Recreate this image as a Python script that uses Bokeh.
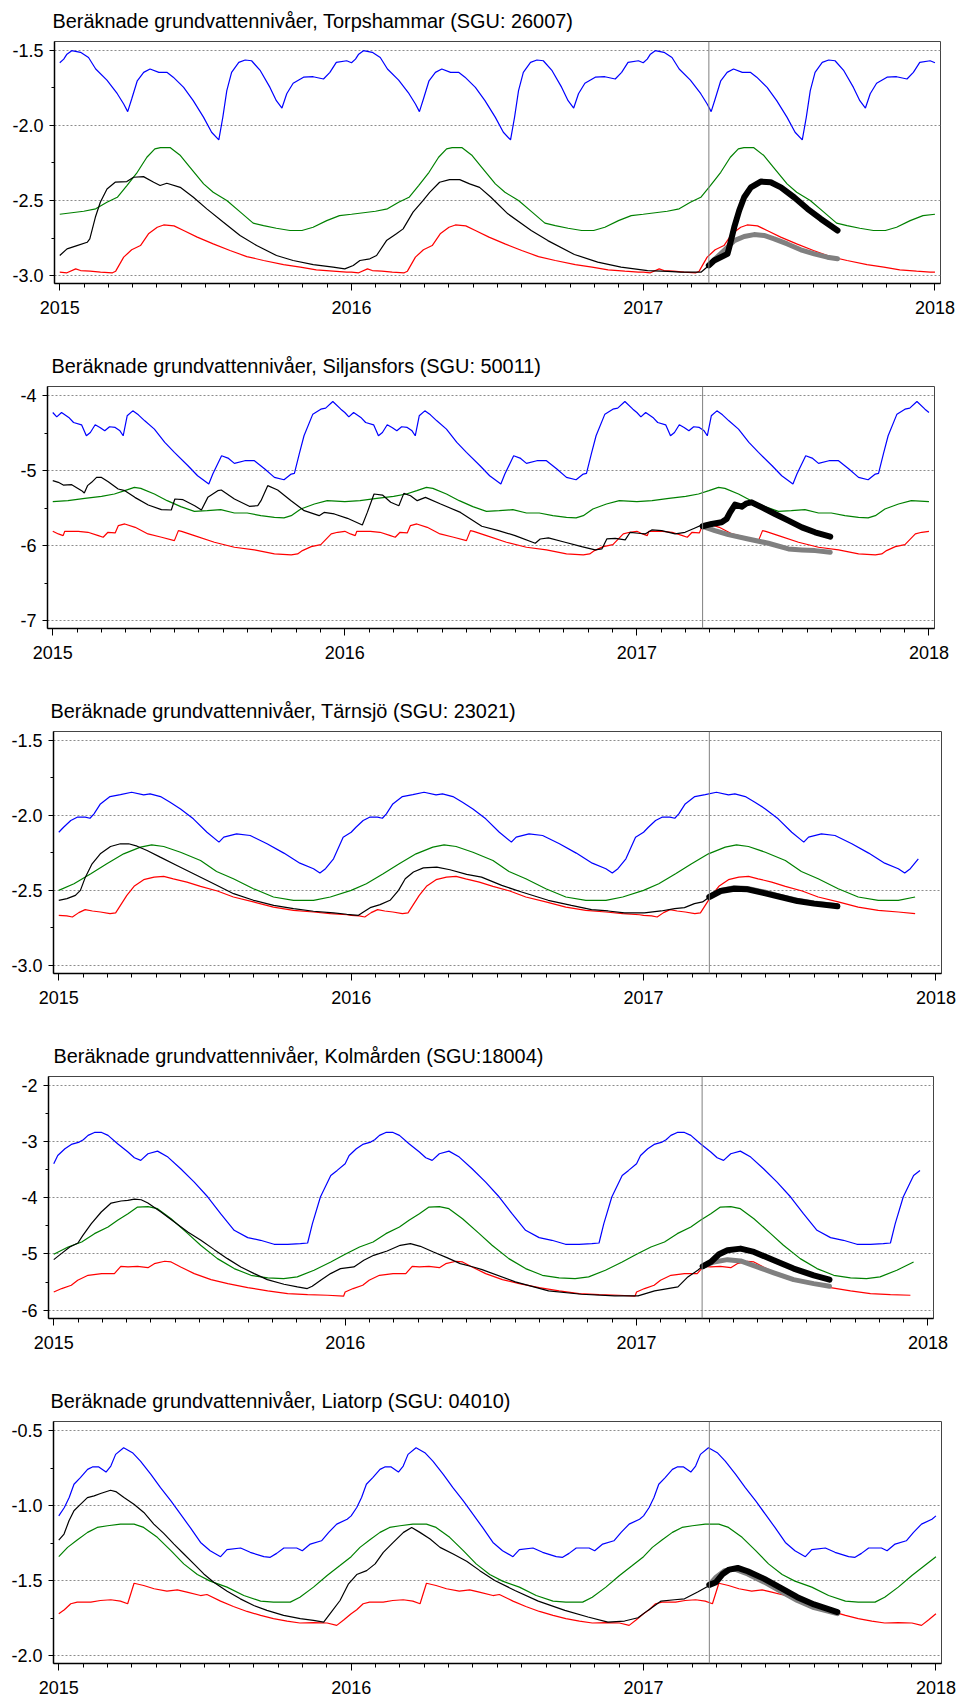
from bokeh.plotting import figure
from bokeh.layouts import column, row
from bokeh.models import FixedTicker, PrintfTickFormatter, Span, Range1d
from bokeh.embed import file_html
from bokeh.resources import INLINE

# ---------------- data ----------------
YEARS = [2015, 2016, 2017]
X_TICKS = [2015, 2016, 2017, 2018]
FORECAST_START = 2017.225

TITLES = [
    "Beräknade grundvattennivåer, Torpshammar (SGU: 26007)",
    "Beräknade grundvattennivåer, Siljansfors (SGU: 50011)",
    "Beräknade grundvattennivåer, Tärnsjö (SGU: 23021)",
    "Beräknade grundvattennivåer, Kolmården (SGU:18004)",
    "Beräknade grundvattennivåer, Liatorp (SGU: 04010)",
]

# Panel 1 - Torpshammar (yearly statistics given per day of year)
P1_BLUE_DOY = [0,5,9,15,26,36,45,59,72,80,85,90,97,105,113,124,134,142,155,167,180,190,199,204,209,215,224,232,240,251,263,271,278,284,292,305,317,330,338,346,359,365]
P1_BLUE = [-1.584,-1.56,-1.527,-1.504,-1.515,-1.549,-1.626,-1.70,-1.79,-1.858,-1.909,-1.825,-1.704,-1.648,-1.626,-1.648,-1.648,-1.68,-1.748,-1.836,-1.947,-2.046,-2.097,-1.947,-1.77,-1.648,-1.582,-1.566,-1.571,-1.637,-1.748,-1.836,-1.885,-1.79,-1.72,-1.68,-1.677,-1.692,-1.648,-1.582,-1.571,-1.584]
P1_GREEN_DOY = [0,30,45,59,72,84,97,109,119,126,138,151,163,180,192,209,226,242,255,271,288,303,317,334,350,365]
P1_GREEN = [-2.591,-2.571,-2.555,-2.511,-2.478,-2.40,-2.312,-2.212,-2.157,-2.148,-2.148,-2.201,-2.279,-2.389,-2.445,-2.50,-2.577,-2.65,-2.666,-2.684,-2.699,-2.699,-2.677,-2.633,-2.60,-2.591]
P1_RED_DOY = [0,9,20,26,38,51,66,70,80,90,101,111,122,130,143,155,172,192,213,234,255,280,301,321,342,359,365]
P1_RED = [-2.976,-2.98,-2.954,-2.965,-2.969,-2.976,-2.98,-2.969,-2.876,-2.827,-2.799,-2.721,-2.677,-2.662,-2.668,-2.699,-2.743,-2.788,-2.832,-2.872,-2.898,-2.925,-2.942,-2.96,-2.969,-2.976,-2.976]
P1_BLACK_T = [2015.000,2015.025,2015.059,2015.094,2015.103,2015.122,2015.139,2015.162,2015.190,2015.230,2015.253,2015.287,2015.322,2015.344,2015.367,2015.413,2015.458,2015.504,2015.561,2015.618,2015.675,2015.743,2015.800,2015.869,2015.937,2015.977,2016.006,2016.029,2016.063,2016.086,2016.120,2016.154,2016.177,2016.211,2016.245,2016.268,2016.302,2016.336,2016.371,2016.405,2016.439,2016.478,2016.536,2016.616,2016.673,2016.764,2016.844,2016.924,2017.015,2017.084,2017.129,2017.198,2017.225]
P1_BLACK = [-2.865,-2.821,-2.799,-2.777,-2.754,-2.611,-2.511,-2.423,-2.378,-2.374,-2.345,-2.341,-2.378,-2.40,-2.385,-2.412,-2.478,-2.555,-2.644,-2.732,-2.799,-2.865,-2.898,-2.925,-2.942,-2.954,-2.931,-2.898,-2.887,-2.865,-2.766,-2.721,-2.688,-2.577,-2.50,-2.445,-2.378,-2.361,-2.361,-2.389,-2.412,-2.478,-2.588,-2.699,-2.766,-2.858,-2.909,-2.942,-2.965,-2.971,-2.976,-2.976,-2.931]
P1_FCB_T = [2017.225,2017.243,2017.289,2017.295,2017.312,2017.329,2017.346,2017.369,2017.403,2017.437,2017.472,2017.517,2017.563,2017.609,2017.666]
P1_FCB = [-2.931,-2.898,-2.854,-2.81,-2.677,-2.566,-2.478,-2.412,-2.374,-2.378,-2.412,-2.478,-2.555,-2.622,-2.699]
P1_FCG_T = [2017.225,2017.243,2017.277,2017.312,2017.346,2017.380,2017.414,2017.449,2017.494,2017.540,2017.586,2017.631,2017.666]
P1_FCG = [-2.931,-2.894,-2.832,-2.766,-2.739,-2.726,-2.732,-2.754,-2.788,-2.827,-2.854,-2.876,-2.887]

# Panel 2 - Siljansfors
P2_BLUE_DOY = [0,5,11,20,26,36,42,47,53,59,65,71,78,84,88,93,100,107,115,127,140,152,169,181,195,200,211,219,227,240,252,265,277,289,298,302,308,314,325,335,341,350,360,365]
P2_BLUE = [-4.226,-4.284,-4.226,-4.292,-4.359,-4.39,-4.536,-4.492,-4.39,-4.425,-4.47,-4.416,-4.425,-4.47,-4.536,-4.27,-4.204,-4.257,-4.337,-4.447,-4.625,-4.758,-4.935,-5.068,-5.179,-5.046,-4.802,-4.833,-4.904,-4.868,-4.868,-4.979,-5.09,-5.121,-5.046,-5.037,-4.78,-4.536,-4.248,-4.182,-4.168,-4.08,-4.182,-4.226]
P2_GREEN_DOY = [0,19,40,61,77,90,102,110,127,143,160,177,193,210,227,243,260,277,289,298,310,327,343,365]
P2_GREEN = [-5.413,-5.40,-5.369,-5.342,-5.311,-5.267,-5.223,-5.236,-5.311,-5.40,-5.48,-5.542,-5.533,-5.52,-5.564,-5.564,-5.60,-5.622,-5.63,-5.60,-5.511,-5.444,-5.40,-5.413]
P2_RED_DOY = [0,7,13,15,32,44,57,63,69,78,82,90,103,119,136,152,157,161,177,202,227,252,277,298,306,312,323,335,348,356,365]
P2_RED = [-5.808,-5.843,-5.865,-5.808,-5.808,-5.821,-5.865,-5.887,-5.821,-5.83,-5.732,-5.71,-5.755,-5.843,-5.887,-5.932,-5.799,-5.808,-5.865,-5.954,-6.02,-6.056,-6.109,-6.122,-6.109,-6.065,-6.012,-5.985,-5.843,-5.821,-5.808]
P2_BLACK_T = [2015.000,2015.019,2015.036,2015.065,2015.099,2015.108,2015.119,2015.133,2015.150,2015.167,2015.190,2015.224,2015.247,2015.281,2015.327,2015.372,2015.406,2015.418,2015.446,2015.486,2015.509,2015.531,2015.565,2015.577,2015.622,2015.673,2015.702,2015.713,2015.736,2015.770,2015.816,2015.861,2015.912,2015.929,2015.964,2016.009,2016.060,2016.077,2016.100,2016.129,2016.157,2016.185,2016.202,2016.225,2016.248,2016.276,2016.328,2016.396,2016.469,2016.526,2016.583,2016.652,2016.669,2016.697,2016.754,2016.811,2016.857,2016.880,2016.897,2016.926,2016.960,2016.977,2017.005,2017.028,2017.051,2017.085,2017.131,2017.165,2017.199,2017.225]
P2_BLACK = [-5.134,-5.156,-5.192,-5.187,-5.267,-5.298,-5.20,-5.156,-5.09,-5.09,-5.148,-5.245,-5.267,-5.356,-5.458,-5.52,-5.524,-5.378,-5.387,-5.467,-5.524,-5.356,-5.267,-5.258,-5.378,-5.475,-5.467,-5.40,-5.20,-5.258,-5.40,-5.533,-5.60,-5.556,-5.577,-5.635,-5.724,-5.556,-5.311,-5.325,-5.422,-5.467,-5.303,-5.334,-5.40,-5.356,-5.444,-5.556,-5.741,-5.799,-5.865,-5.967,-5.91,-5.896,-5.954,-6.012,-6.056,-6.043,-5.91,-5.901,-5.923,-5.821,-5.834,-5.843,-5.79,-5.799,-5.843,-5.821,-5.763,-5.719]
P2_FCB_T = [2017.225,2017.256,2017.290,2017.307,2017.319,2017.336,2017.359,2017.376,2017.393,2017.428,2017.473,2017.519,2017.565,2017.610,2017.662]
P2_FCB = [-5.741,-5.71,-5.688,-5.644,-5.556,-5.453,-5.48,-5.436,-5.422,-5.489,-5.577,-5.666,-5.755,-5.821,-5.879]
P2_FCG_T = [2017.225,2017.267,2017.313,2017.381,2017.450,2017.519,2017.565,2017.610,2017.662]
P2_FCG = [-5.741,-5.799,-5.852,-5.91,-5.967,-6.043,-6.056,-6.065,-6.087]

# Panel 3 - Tärnsjö
P3_BLUE_DOY = [0,6,15,23,33,39,44,52,64,77,91,106,114,127,139,152,168,185,200,206,222,239,260,281,301,318,326,333,343,355,365]
P3_BLUE = [-2.113,-2.08,-2.035,-2.013,-2.013,-2.02,-1.991,-1.925,-1.876,-1.863,-1.847,-1.865,-1.858,-1.876,-1.914,-1.958,-2.024,-2.113,-2.179,-2.146,-2.124,-2.135,-2.19,-2.252,-2.319,-2.356,-2.385,-2.356,-2.29,-2.146,-2.113]
P3_GREEN_DOY = [0,19,40,60,81,102,116,131,152,177,197,218,243,268,293,318,339,365]
P3_GREEN = [-2.50,-2.456,-2.389,-2.323,-2.257,-2.212,-2.197,-2.208,-2.246,-2.301,-2.374,-2.423,-2.489,-2.544,-2.566,-2.566,-2.544,-2.50]
P3_RED_DOY = [0,10,17,25,33,42,52,64,71,77,85,94,106,119,131,143,160,177,198,218,243,268,293,318,339,360,365]
P3_RED = [-2.666,-2.67,-2.677,-2.648,-2.628,-2.637,-2.644,-2.655,-2.65,-2.60,-2.533,-2.473,-2.429,-2.412,-2.407,-2.423,-2.445,-2.473,-2.504,-2.544,-2.577,-2.611,-2.633,-2.644,-2.655,-2.662,-2.666]
P3_BLACK_T = [2015.000,2015.028,2015.057,2015.074,2015.091,2015.114,2015.142,2015.177,2015.211,2015.239,2015.268,2015.302,2015.347,2015.404,2015.461,2015.530,2015.598,2015.666,2015.735,2015.803,2015.871,2015.940,2015.985,2016.025,2016.042,2016.065,2016.099,2016.133,2016.162,2016.185,2016.213,2016.247,2016.293,2016.338,2016.395,2016.446,2016.515,2016.583,2016.674,2016.753,2016.822,2016.879,2016.935,2017.003,2017.060,2017.106,2017.140,2017.174,2017.202,2017.225]
P3_BLACK = [-2.566,-2.555,-2.533,-2.50,-2.412,-2.323,-2.257,-2.208,-2.19,-2.19,-2.206,-2.235,-2.279,-2.334,-2.389,-2.456,-2.522,-2.566,-2.60,-2.622,-2.639,-2.65,-2.659,-2.666,-2.644,-2.615,-2.595,-2.566,-2.50,-2.423,-2.378,-2.35,-2.345,-2.363,-2.394,-2.412,-2.467,-2.511,-2.566,-2.60,-2.628,-2.637,-2.65,-2.65,-2.637,-2.622,-2.615,-2.588,-2.577,-2.544]
P3_FCB_T = [2017.225,2017.264,2017.310,2017.356,2017.413,2017.469,2017.526,2017.583,2017.663]
P3_FCB = [-2.544,-2.504,-2.489,-2.493,-2.518,-2.544,-2.571,-2.588,-2.606]
P3_FCG_T = [2017.225,2017.264,2017.310,2017.356,2017.413,2017.469,2017.526,2017.583,2017.663]
P3_FCG = [-2.54,-2.50,-2.482,-2.487,-2.511,-2.54,-2.566,-2.584,-2.602]

# Panel 4 - Kolmården
P4_BLUE_DOY = [0,5,14,22,32,37,43,51,60,68,80,93,101,109,118,130,143,159,176,193,209,226,243,259,276,293,309,318,324,334,347,355,365]
P4_BLUE = [-3.396,-3.249,-3.13,-3.053,-3.012,-2.97,-2.893,-2.84,-2.84,-2.893,-3.041,-3.189,-3.29,-3.337,-3.219,-3.172,-3.278,-3.485,-3.722,-3.988,-4.284,-4.58,-4.71,-4.757,-4.828,-4.828,-4.817,-4.805,-4.462,-3.988,-3.604,-3.515,-3.396]
P4_GREEN_DOY = [0,18,35,51,68,80,93,105,118,130,147,168,184,205,226,247,268,288,305,326,347,365]
P4_GREEN = [-5.006,-4.876,-4.787,-4.639,-4.521,-4.402,-4.284,-4.166,-4.16,-4.195,-4.373,-4.639,-4.846,-5.083,-5.26,-5.379,-5.426,-5.438,-5.408,-5.29,-5.142,-5.006]
P4_RED_DOY = [0,10,22,30,43,60,76,84,93,105,118,126,139,147,159,176,197,218,243,268,293,318,343,363,365]
P4_RED = [-5.675,-5.615,-5.556,-5.467,-5.379,-5.349,-5.349,-5.219,-5.231,-5.219,-5.243,-5.172,-5.13,-5.142,-5.231,-5.349,-5.456,-5.527,-5.598,-5.657,-5.704,-5.722,-5.734,-5.751,-5.675]
P4_BLACK_T = [2015.000,2015.026,2015.055,2015.083,2015.100,2015.129,2015.163,2015.197,2015.231,2015.254,2015.277,2015.300,2015.323,2015.368,2015.414,2015.460,2015.505,2015.551,2015.596,2015.642,2015.688,2015.733,2015.790,2015.836,2015.870,2015.887,2015.916,2015.950,2015.984,2016.030,2016.064,2016.098,2016.144,2016.189,2016.224,2016.258,2016.303,2016.349,2016.395,2016.440,2016.470,2016.584,2016.698,2016.811,2016.925,2017.005,2017.062,2017.142,2017.176,2017.210,2017.227]
P4_BLACK = [-5.101,-4.994,-4.876,-4.805,-4.669,-4.462,-4.254,-4.095,-4.059,-4.047,-4.024,-4.036,-4.095,-4.254,-4.432,-4.609,-4.757,-4.923,-5.083,-5.231,-5.349,-5.456,-5.538,-5.586,-5.615,-5.574,-5.467,-5.349,-5.26,-5.231,-5.112,-5.024,-4.947,-4.846,-4.817,-4.864,-4.964,-5.065,-5.172,-5.231,-5.278,-5.497,-5.657,-5.716,-5.746,-5.746,-5.657,-5.586,-5.408,-5.29,-5.219]
P4_FCB_T = [2017.227,2017.255,2017.283,2017.312,2017.357,2017.403,2017.471,2017.539,2017.608,2017.662]
P4_FCB = [-5.219,-5.142,-5.006,-4.935,-4.905,-4.964,-5.112,-5.26,-5.379,-5.456]
P4_FCG_T = [2017.227,2017.266,2017.312,2017.357,2017.414,2017.471,2017.539,2017.608,2017.662]
P4_FCG = [-5.219,-5.142,-5.101,-5.124,-5.231,-5.337,-5.456,-5.527,-5.574]

# Panel 5 - Liatorp
P5_BLUE_DOY = [0,7,13,19,27,36,42,50,59,65,71,81,92,102,115,127,140,152,164,177,189,202,210,227,239,256,264,272,281,297,304,314,328,337,347,360,365]
P5_BLUE = [-1.069,-1.013,-0.947,-0.858,-0.814,-0.759,-0.743,-0.743,-0.777,-0.737,-0.659,-0.615,-0.648,-0.704,-0.792,-0.881,-0.969,-1.058,-1.146,-1.246,-1.301,-1.341,-1.294,-1.283,-1.312,-1.341,-1.345,-1.319,-1.283,-1.283,-1.301,-1.257,-1.235,-1.179,-1.124,-1.091,-1.069]
P5_GREEN_DOY = [0,11,23,36,48,61,77,94,106,123,140,156,173,189,210,231,252,268,289,301,318,335,351,365]
P5_GREEN = [-1.341,-1.279,-1.23,-1.179,-1.146,-1.135,-1.124,-1.124,-1.146,-1.212,-1.301,-1.389,-1.46,-1.504,-1.544,-1.60,-1.637,-1.644,-1.644,-1.611,-1.544,-1.467,-1.40,-1.341]
P5_RED_DOY = [0,7,15,23,40,52,65,77,86,94,106,119,135,148,160,177,185,202,218,235,252,268,285,301,318,335,347,356,365]
P5_RED = [-1.721,-1.695,-1.655,-1.644,-1.644,-1.633,-1.628,-1.637,-1.655,-1.518,-1.533,-1.555,-1.571,-1.562,-1.577,-1.60,-1.593,-1.637,-1.673,-1.706,-1.732,-1.754,-1.77,-1.783,-1.781,-1.783,-1.799,-1.761,-1.721]
P5_BLACK_T = [2015.000,2015.018,2015.035,2015.052,2015.075,2015.098,2015.121,2015.143,2015.177,2015.195,2015.223,2015.257,2015.291,2015.325,2015.359,2015.394,2015.428,2015.462,2015.496,2015.530,2015.576,2015.621,2015.667,2015.712,2015.769,2015.826,2015.871,2015.906,2015.928,2015.962,2015.991,2016.019,2016.053,2016.082,2016.110,2016.144,2016.179,2016.207,2016.235,2016.270,2016.304,2016.349,2016.395,2016.440,2016.491,2016.560,2016.640,2016.731,2016.810,2016.878,2016.935,2016.981,2017.015,2017.060,2017.106,2017.140,2017.185,2017.225]
P5_BLACK = [-1.23,-1.19,-1.102,-1.035,-0.991,-0.947,-0.936,-0.92,-0.898,-0.907,-0.947,-0.991,-1.046,-1.124,-1.186,-1.257,-1.323,-1.389,-1.456,-1.511,-1.571,-1.622,-1.666,-1.699,-1.732,-1.754,-1.765,-1.777,-1.721,-1.633,-1.522,-1.46,-1.434,-1.389,-1.312,-1.246,-1.179,-1.146,-1.179,-1.223,-1.279,-1.323,-1.372,-1.434,-1.50,-1.566,-1.637,-1.699,-1.743,-1.777,-1.77,-1.748,-1.699,-1.637,-1.628,-1.622,-1.577,-1.533]
P5_FCB_T = [2017.225,2017.248,2017.271,2017.293,2017.322,2017.356,2017.413,2017.469,2017.526,2017.583,2017.663]
P5_FCB = [-1.529,-1.511,-1.456,-1.427,-1.416,-1.438,-1.489,-1.549,-1.611,-1.659,-1.71]
P5_FCG_T = [2017.225,2017.248,2017.277,2017.310,2017.356,2017.413,2017.469,2017.526,2017.583,2017.663]
P5_FCG = [-1.529,-1.478,-1.434,-1.423,-1.456,-1.511,-1.571,-1.633,-1.681,-1.721]

# y-axis ticks per panel
P1_YTICKS = [-3.0, -2.5, -2.0, -1.5]
P2_YTICKS = [-7, -6, -5, -4]
P3_YTICKS = [-3.0, -2.5, -2.0, -1.5]
P4_YTICKS = [-6, -5, -4, -3, -2]
P5_YTICKS = [-2.0, -1.5, -1.0, -0.5]
SERIES_END = [2018.0, 2018.0, 2017.94, 2017.975, 2018.0]

# ---------------- layout / style ----------------
FONT = "Liberation Sans"
BLUE, GREEN, RED, BLACK, GRAY = "#0000FF", "#008000", "#FF0000", "#000000", "#808080"
FIG_W = 956
TOP, FRAME_H = 41, 242

panels = [
    dict(title=TITLES[0], blue=(P1_BLUE_DOY, P1_BLUE), green=(P1_GREEN_DOY, P1_GREEN), red=(P1_RED_DOY, P1_RED),
         black=(P1_BLACK_T, P1_BLACK), fcb=(P1_FCB_T, P1_FCB), fcg=(P1_FCG_T, P1_FCG), yticks=P1_YTICKS, fmt="%.1f",
         yr=(-3.051, -1.443), ml=54, fw=886, off=-2, end=SERIES_END[0], h=345),
    dict(title=TITLES[1], blue=(P2_BLUE_DOY, P2_BLUE), green=(P2_GREEN_DOY, P2_GREEN), red=(P2_RED_DOY, P2_RED),
         black=(P2_BLACK_T, P2_BLACK), fcb=(P2_FCB_T, P2_FCB), fcg=(P2_FCG_T, P2_FCG), yticks=P2_YTICKS, fmt="%d",
         yr=(-7.102, -3.880), ml=47, fw=887, off=4, end=SERIES_END[1], h=345),
    dict(title=TITLES[2], blue=(P3_BLUE_DOY, P3_BLUE), green=(P3_GREEN_DOY, P3_GREEN), red=(P3_RED_DOY, P3_RED),
         black=(P3_BLACK_T, P3_BLACK), fcb=(P3_FCB_T, P3_FCB), fcg=(P3_FCG_T, P3_FCG), yticks=P3_YTICKS, fmt="%.1f",
         yr=(-3.053, -1.443), ml=53, fw=888, off=-3, end=SERIES_END[2], h=345),
    dict(title=TITLES[3], blue=(P4_BLUE_DOY, P4_BLUE), green=(P4_GREEN_DOY, P4_GREEN), red=(P4_RED_DOY, P4_RED),
         black=(P4_BLACK_T, P4_BLACK), fcb=(P4_FCB_T, P4_FCB), fcg=(P4_FCG_T, P4_FCG), yticks=P4_YTICKS, fmt="%d",
         yr=(-6.147, -1.846), ml=48, fw=885, off=5, end=SERIES_END[3], h=345),
    dict(title=TITLES[4], blue=(P5_BLUE_DOY, P5_BLUE), green=(P5_GREEN_DOY, P5_GREEN), red=(P5_RED_DOY, P5_RED),
         black=(P5_BLACK_T, P5_BLACK), fcb=(P5_FCB_T, P5_FCB), fcg=(P5_FCG_T, P5_FCG), yticks=P5_YTICKS, fmt="%.1f",
         yr=(-2.053, -0.440), ml=53, fw=888, off=-3, end=SERIES_END[4], h=320),
]


def tile(doy, vals, end):
    """Repeat the yearly statistic for each year shown."""
    xs, ys = [], []
    for yr in YEARS:
        for d, v in zip(doy, vals):
            x = yr + d / 365.0
            if x <= end + 1e-9:
                xs.append(x)
                ys.append(v)
    return xs, ys


x_minor = [y + m / 12.0 for y in YEARS for m in range(1, 12)]

rows = []
for i, pc in enumerate(panels):
    yt = pc["yticks"]
    ym = [(a + b) / 2.0 for a, b in zip(yt[:-1], yt[1:])]
    mb = pc["h"] - TOP - FRAME_H
    p = figure(
        width=FIG_W, height=pc["h"],
        x_range=Range1d(2014.982, 2018.019), y_range=Range1d(*pc["yr"]),
        output_backend="svg", toolbar_location=None,
        min_border_left=pc["ml"], min_border_right=FIG_W - pc["ml"] - pc["fw"],
        min_border_top=TOP, min_border_bottom=mb,
        title=pc["title"],
    )
    p.title.text_font = FONT
    p.title.text_font_size = "19.9px"
    p.title.text_font_style = "normal"
    p.title.text_color = "#000000"
    p.title.align = "left"
    p.title.vertical_align = "top"
    p.title.standoff = 16
    p.title.offset = pc["off"]

    p.outline_line_color = "#444444"
    p.outline_line_width = 1
    p.background_fill_color = "white"
    p.border_fill_color = "white"

    p.xgrid.visible = False
    p.ygrid.grid_line_color = "#8c8c8c"
    p.ygrid.grid_line_dash = "2 2"
    p.ygrid.grid_line_width = 1

    xa = p.xaxis[0]
    xa.ticker = FixedTicker(ticks=X_TICKS, minor_ticks=x_minor)
    xa.formatter = PrintfTickFormatter(format="%d")
    xa.major_tick_in = 0
    xa.major_tick_out = 7
    xa.minor_tick_in = 0
    xa.minor_tick_out = 4
    xa.major_label_standoff = 10
    xa.major_label_text_font = FONT
    xa.major_label_text_font_size = "18px"
    xa.major_label_text_color = "#000000"
    xa.axis_line_width = 1.5
    xa.axis_line_color = "#000000"

    ya = p.yaxis[0]
    ya.ticker = FixedTicker(ticks=yt, minor_ticks=ym)
    ya.formatter = PrintfTickFormatter(format=pc["fmt"])
    ya.major_tick_in = 0
    ya.major_tick_out = 5
    ya.minor_tick_in = 0
    ya.minor_tick_out = 3
    ya.major_label_standoff = 6
    ya.major_label_text_font = FONT
    ya.major_label_text_font_size = "18px"
    ya.major_label_text_color = "#000000"
    ya.axis_line_width = 1.5
    ya.axis_line_color = "#000000"

    end = pc["end"]
    bx, by = tile(*pc["blue"], end)
    gx, gy = tile(*pc["green"], end)
    rx, ry = tile(*pc["red"], end)
    p.line(bx, by, line_color=BLUE, line_width=1.2)
    p.line(gx, gy, line_color=GREEN, line_width=1.2)
    p.line(rx, ry, line_color=RED, line_width=1.2)
    p.line(pc["black"][0], pc["black"][1], line_color=BLACK, line_width=1.2)

    p.add_layout(Span(location=FORECAST_START, dimension="height", line_color=GRAY, line_width=1))

    p.line(pc["fcg"][0], pc["fcg"][1], line_color=GRAY, line_width=5, line_cap="round", line_join="round")
    p.line(pc["fcb"][0], pc["fcb"][1], line_color=BLACK, line_width=6, line_cap="round", line_join="round")
    rows.append(row(p, spacing=0))

layout = column(*rows, spacing=0)
open("out.html", "w").write(file_html(layout, INLINE))
